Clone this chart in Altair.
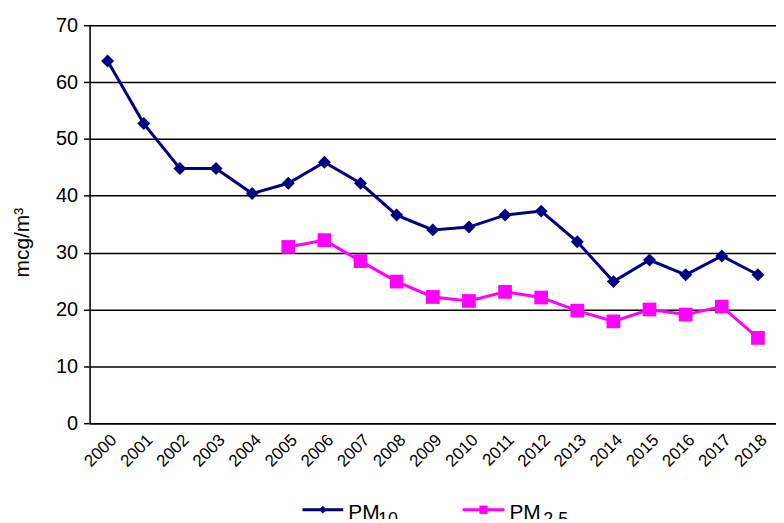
import altair as alt
import pandas as pd

years = [str(y) for y in range(2000, 2019)]
pm10 = [63.7, 52.7, 44.8, 44.8, 40.4, 42.2, 45.9, 42.2, 36.6, 34.0, 34.5, 36.6, 37.3, 31.9, 24.9, 28.7, 26.1, 29.4, 26.1]
pm25_years = [str(y) for y in range(2005, 2019)]
pm25 = [31.0, 32.2, 28.5, 24.9, 22.2, 21.5, 23.1, 22.1, 19.8, 17.9, 20.0, 19.1, 20.5, 15.0]

df10 = pd.DataFrame({"year": years, "value": pm10})
df25 = pd.DataFrame({"year": pm25_years, "value": pm25})

FONT = "Liberation Sans"
NAVY = "#000080"
MAG = "#FF00FF"

x = alt.X("year:O", sort=years, scale=alt.Scale(domain=years, padding=0.5),
          axis=alt.Axis(title=None, labelAngle=-45, labelAlign="right", labelBaseline="middle",
                        labelFontSize=17, labelFont=FONT, labelColor="black", labelPadding=14,
                        labelOffset=6,
                        ticks=False, domainColor="black", domainWidth=1.5, grid=False))
y = alt.Y("value:Q", scale=alt.Scale(domain=[0, 70], nice=False),
          axis=alt.Axis(title="mcg/m³", values=list(range(0, 80, 10)), labelFontSize=20,
                        labelFont=FONT, labelColor="black", labelPadding=6, tickSize=6,
                        tickColor="black", tickWidth=1.5, domainColor="black", domainWidth=1.5,
                        grid=True, gridColor="black", gridWidth=1.5,
                        titleFont=FONT, titleFontSize=21, titleFontWeight="normal",
                        titleColor="black", titleAngle=-90, titleX=-67, titleY=218,
                        titleAlign="center", titleBaseline="middle"))

line10 = alt.Chart(df10).mark_line(color=NAVY, strokeWidth=3).encode(x=x, y=y)
pts10 = alt.Chart(df10).mark_point(shape="diamond", filled=True, color=NAVY, size=170, opacity=1).encode(x=x, y=y)
line25 = alt.Chart(df25).mark_line(color=MAG, strokeWidth=3).encode(x=x, y=y)
pts25 = alt.Chart(df25).mark_point(shape="square", filled=True, color=MAG, size=190, opacity=1).encode(x=x, y=y)

# manual legend (pixel positions relative to plot area)
leg = pd.DataFrame({"k": [0]})
def legend_item(x0, x1, color, shape, size, pm_x, sub, sub_x):
    base = alt.Chart(leg)
    r = base.mark_rule(color=color, strokeWidth=3).encode(
        x=alt.value(x0), x2=alt.value(x1), y=alt.value(487))
    p = base.mark_point(shape=shape, filled=True, color=color, size=size, opacity=1).encode(
        x=alt.value((x0 + x1) / 2), y=alt.value(487))
    t1 = base.mark_text(text="PM", font=FONT, fontSize=21, align="left", baseline="alphabetic",
                        color="black").encode(x=alt.value(pm_x), y=alt.value(496))
    t2 = base.mark_text(text=sub, font=FONT, fontSize=18, align="left", baseline="alphabetic",
                        color="black").encode(x=alt.value(sub_x), y=alt.value(502))
    return r + p + t1 + t2

l1 = legend_item(214, 255, NAVY, "diamond", 60, 260, "10", 290)
l2 = legend_item(375, 417, MAG, "square", 70, 422, "2.5", 456)

chart = (line10 + pts10 + line25 + pts25 + l1 + l2).properties(
    width=690, height=400,
    autosize=alt.AutoSizeParams(type="none"),
    padding={"left": 82, "top": 16, "right": 0, "bottom": 95},
).configure_view(stroke=None).configure(background="white")

chart.save("out.html", embed_options={"renderer": "svg", "actions": False})
